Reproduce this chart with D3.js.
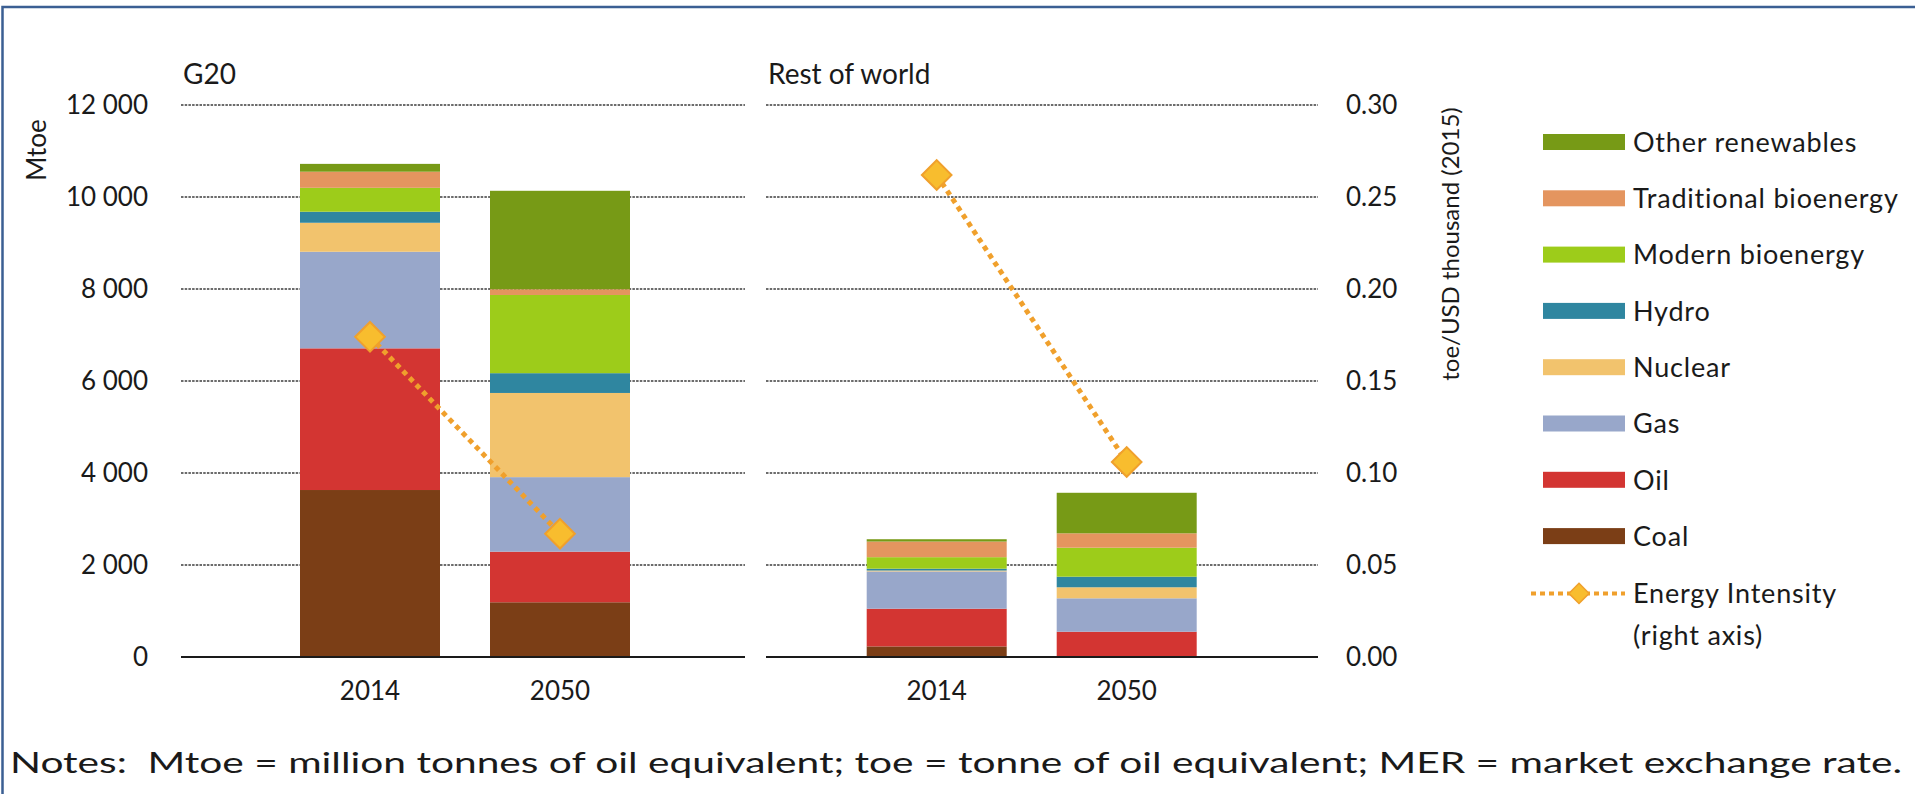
<!DOCTYPE html>
<html>
<head>
<meta charset="utf-8">
<script src="https://cdn.jsdelivr.net/npm/d3@7"></script>
<style>
  body { margin: 0; background: #fff; }
  svg { display: block; font-family: Lato, "Open Sans", sans-serif; fill: #1a1a1a; }
</style>
</head>
<body>
<svg id="chart" width="1915" height="794"></svg>
<script>
const years = ["2014", "2050"];
const panelNames = ["G20", "Rest of world"];
const sources = ["Coal", "Oil", "Gas", "Nuclear", "Hydro", "Modern bioenergy", "Traditional bioenergy", "Other renewables"];
const colours = ["#7b3e16", "#d33532", "#98a7ca", "#f2c36d", "#2f86a0", "#9dcc1a", "#e4955f", "#779a16"];

// Mtoe per year, same order as sources
const g20Values = [
  [3630, 3080, 2100, 630, 240, 520, 350, 170],
  [1190, 1100, 1620, 1830, 430, 1700, 125, 2140]
];
const rowValues = [
  [230, 820, 810, 20, 40, 250, 340, 50],
  [15, 535, 726, 240, 230, 630, 313, 881]
];
// toe / USD thousand (2015)
const g20Intensity = [0.174, 0.067];
const rowIntensity = [0.262, 0.106];

const leftTicks = [0, 2000, 4000, 6000, 8000, 10000, 12000];
const rightTicks = [0, 0.05, 0.10, 0.15, 0.20, 0.25, 0.30];

const legendNames = ["Other renewables", "Traditional bioenergy", "Modern bioenergy", "Hydro", "Nuclear", "Gas", "Oil", "Coal"];

const svg = d3.select("#chart");
const lineColour = "#f0a02c";
const diamondFill = "#f8bd2e";

// frame
svg.append("path")
  .attr("d", "M2.5,794 V7 H1915")
  .attr("fill", "none")
  .attr("stroke", "#3b5f93")
  .attr("stroke-width", 2.5);

const y = d3.scaleLinear().domain([0, 12000]).range([657, 105]);
const y2 = d3.scaleLinear().domain([0, 0.30]).range([657, 105]);

const fmt = d3.formatLocale({ decimal: ".", thousands: " ", grouping: [3], currency: ["", ""] }).format(",");

const panels = [
  { name: panelNames[0], values: g20Values, intensity: g20Intensity, x0: 181, x1: 745, band0: 275 },
  { name: panelNames[1], values: rowValues, intensity: rowIntensity, x0: 766, x1: 1318, band0: 841.7 }
];

const stack = d3.stack().keys(d3.range(sources.length));

panels.forEach(p => {
  const g = svg.append("g");
  const x = d3.scaleBand().domain(years).range([p.band0, p.band0 + 380])
    .paddingInner(50 / 190).paddingOuter(25 / 190);

  // gridlines
  g.selectAll(".grid")
    .data(leftTicks.filter(t => t > 0))
    .enter().append("line")
    .attr("x1", p.x0).attr("x2", p.x1)
    .attr("y1", d => y(d)).attr("y2", d => y(d))
    .attr("stroke", "#3c3c3c")
    .attr("stroke-width", 1.6)
    .attr("stroke-dasharray", "2.5,1.2");

  // stacked bars
  const rows = p.values.map(v => Object.assign({}, v));
  const series = stack(rows);
  g.selectAll(".layer")
    .data(series)
    .enter().append("g")
    .attr("fill", (d, i) => colours[i])
    .selectAll("rect")
    .data(d => d)
    .enter().append("rect")
    .attr("x", (d, i) => x(years[i]))
    .attr("width", x.bandwidth())
    .attr("y", d => y(d[1]))
    .attr("height", d => y(d[0]) - y(d[1]));

  // zero line
  g.append("line")
    .attr("x1", p.x0).attr("x2", p.x1)
    .attr("y1", y(0)).attr("y2", y(0))
    .attr("stroke", "#1a1a1a").attr("stroke-width", 2);

  // category axis
  const xAxis = g.append("g")
    .attr("transform", `translate(0,${y(0)})`)
    .call(d3.axisBottom(x).tickSize(0).tickPadding(25));
  xAxis.select(".domain").remove();
  xAxis.selectAll("text").attr("font-size", 26).attr("fill", "#1a1a1a").attr("font-family", "Lato");

  // energy intensity
  const pts = p.intensity.map((v, i) => [x(years[i]) + x.bandwidth() / 2, y2(v)]);
  g.append("path")
    .attr("d", d3.line()(pts))
    .attr("fill", "none")
    .attr("stroke", lineColour)
    .attr("stroke-width", 5)
    .attr("stroke-dasharray", "5,4.5");
  g.selectAll(".dia")
    .data(pts)
    .enter().append("path")
    .attr("d", d3.symbol(d3.symbolDiamond2, 560)())
    .attr("transform", d => `translate(${d[0]},${d[1]})`)
    .attr("fill", diamondFill)
    .attr("stroke", lineColour)
    .attr("stroke-width", 2);

  // panel title
  g.append("text")
    .attr("x", p.x0 + 2).attr("y", 84)
    .attr("font-size", 28)
    .text(p.name);
});

// left axis
const yAxis = svg.append("g")
  .attr("transform", "translate(181,0)")
  .call(d3.axisLeft(y).tickValues(leftTicks).tickFormat(fmt).tickSize(0).tickPadding(33));
yAxis.select(".domain").remove();
yAxis.selectAll("text").attr("font-size", 26).attr("fill", "#1a1a1a").attr("font-family", "Lato");

// right axis
const y2Axis = svg.append("g")
  .attr("transform", "translate(1318,0)")
  .call(d3.axisRight(y2).tickValues(rightTicks).tickFormat(d3.format(".2f")).tickSize(0).tickPadding(28));
y2Axis.select(".domain").remove();
y2Axis.selectAll("text").attr("font-size", 26).attr("fill", "#1a1a1a").attr("font-family", "Lato");

// axis titles
svg.append("text")
  .attr("transform", "translate(46,150) rotate(-90)")
  .attr("text-anchor", "middle")
  .attr("font-size", 26)
  .text("Mtoe");

svg.append("text")
  .attr("transform", "translate(1459,244) rotate(-90)")
  .attr("text-anchor", "middle")
  .attr("font-size", 24)
  .text("toe/USD thousand (2015)");

// legend
const legend = svg.append("g").attr("transform", "translate(1543,142)");
const step = 56.3;
legendNames.forEach((name, i) => {
  const row = legend.append("g").attr("transform", `translate(0,${i * step})`);
  row.append("rect")
    .attr("x", 0).attr("y", -8).attr("width", 82).attr("height", 16)
    .attr("fill", colours[sources.indexOf(name)]);
  row.append("text")
    .attr("x", 90).attr("dy", "0.36em")
    .attr("font-size", 27)
    .attr("letter-spacing", 0.8)
    .text(name);
});
const eRow = legend.append("g").attr("transform", `translate(0,${legendNames.length * step + 1})`);
eRow.append("line")
  .attr("x1", -12).attr("x2", 82).attr("y1", 0).attr("y2", 0)
  .attr("stroke", lineColour).attr("stroke-width", 4).attr("stroke-dasharray", "5,4");
eRow.append("path")
  .attr("d", d3.symbol(d3.symbolDiamond2, 260)())
  .attr("transform", "translate(36,0)")
  .attr("fill", diamondFill).attr("stroke", lineColour).attr("stroke-width", 1.5);
eRow.append("text").attr("x", 90).attr("dy", "0.36em").attr("font-size", 27).attr("letter-spacing", 0.8).text("Energy Intensity");
eRow.append("text").attr("x", 90).attr("y", 42).attr("dy", "0.36em").attr("font-size", 27).attr("letter-spacing", 0.8).text("(right axis)");

// notes
svg.append("text")
  .attr("x", 10).attr("y", 773)
  .attr("font-size", 28)
  .attr("textLength", 1892)
  .attr("lengthAdjust", "spacingAndGlyphs")
  .text("Notes:\u00a0 Mtoe = million tonnes of oil equivalent; toe = tonne of oil equivalent; MER = market exchange rate.");
</script>
</body>
</html>
